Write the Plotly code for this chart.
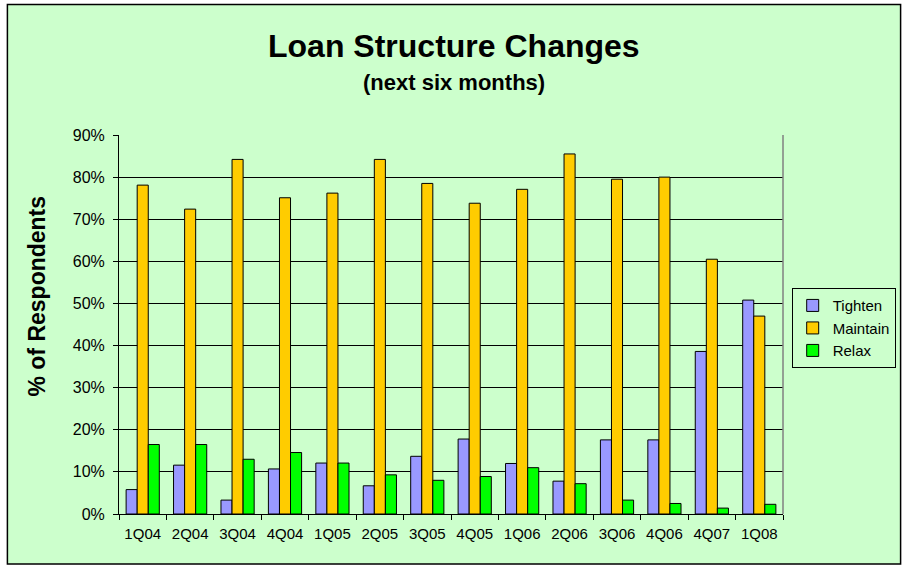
import plotly.graph_objects as go

categories = ["1Q04", "2Q04", "3Q04", "4Q04", "1Q05", "2Q05", "3Q05", "4Q05",
              "1Q06", "2Q06", "3Q06", "4Q06", "4Q07", "1Q08"]
tighten = [5.8, 11.6, 3.3, 10.7, 12.1, 6.7, 13.7, 17.8, 12.0, 7.8, 17.6, 17.6, 38.6, 50.8]
maintain = [78.1, 72.4, 84.2, 75.1, 76.2, 84.2, 78.5, 73.8, 77.1, 85.5, 79.5, 80.0, 60.5, 47.0]
relax = [16.5, 16.5, 13.0, 14.6, 12.1, 9.3, 8.0, 8.9, 11.0, 7.2, 3.3, 2.5, 1.4, 2.3]
y_ticks = [0, 10, 20, 30, 40, 50, 60, 70, 80, 90]
y_tick_labels = [f"{v}%" for v in y_ticks]

FONT = "Liberation Sans, Arial, sans-serif"
GREEN_BG = "#CCFFCC"

# plot-area geometry in page pixels (used to place paper-relative decorations)
PL, PR, PT, PB = 118.7, 783.3, 134.7, 514.0
PW, PH = PR - PL, PB - PT


def px(xp):
    return (xp - PL) / PW


def py(yp):
    return (PB - yp) / PH


fig = go.Figure()
for name, vals, color in [("Tighten", tighten, "#9999FF"),
                          ("Maintain", maintain, "#FFCC00"),
                          ("Relax", relax, "#00FF00")]:
    fig.add_trace(go.Bar(
        x=categories, y=vals, name=name,
        marker=dict(color=color, line=dict(color="#000000", width=1)),
    ))

fig.update_layout(
    width=904, height=566,
    barmode="group", bargap=0.30, bargroupgap=0.0,
    paper_bgcolor="white", plot_bgcolor="white",
    margin=dict(l=119, r=121, t=135, b=52, pad=0, autoexpand=False),
    font=dict(family=FONT, color="#000000", size=13),
    showlegend=True,
    legend=dict(
        x=px(792), y=py(288), xanchor="left", yanchor="top",
        bgcolor=GREEN_BG, bordercolor="#000000", borderwidth=1,
        font=dict(family=FONT, size=15, color="#000000"),
        tracegroupgap=0, itemwidth=30,
    ),
    shapes=[
        dict(type="rect", xref="paper", yref="paper",
             x0=px(7), x1=px(901), y0=py(564), y1=py(4),
             fillcolor=GREEN_BG, line=dict(color="#000000", width=1.5),
             layer="below"),
        dict(type="line", xref="paper", yref="paper",
             x0=1, x1=1, y0=0, y1=1,
             line=dict(color="#808080", width=1.5)),
    ],
    annotations=[
        dict(text="<b>Loan Structure Changes</b>", xref="paper", yref="paper",
             x=px(454), y=py(46), xanchor="center", yanchor="middle",
             showarrow=False, font=dict(family=FONT, size=32, color="#000000")),
        dict(text="<b>(next six months)</b>", xref="paper", yref="paper",
             x=px(454), y=py(82), xanchor="center", yanchor="middle",
             showarrow=False, font=dict(family=FONT, size=22, color="#000000")),
        dict(text="<b>% of Respondents</b>", xref="paper", yref="paper",
             x=px(37), y=py(296), xanchor="center", yanchor="middle",
             textangle=-90, showarrow=False,
             font=dict(family=FONT, size=23, color="#000000")),
    ],
)

fig.update_xaxes(
    type="category", tickson="boundaries", ticks="outside", ticklen=5,
    tickcolor="#000000", showline=True, linecolor="#000000", linewidth=1,
    showgrid=False, ticklabelstandoff=6,
    tickfont=dict(family=FONT, size=15, color="#000000"),
)
fig.update_yaxes(
    range=[0, 90], tickvals=y_ticks, ticktext=y_tick_labels,
    ticks="outside", ticklen=5, tickcolor="#000000",
    showline=True, linecolor="#000000", linewidth=1,
    showgrid=True, gridcolor="#000000", gridwidth=1, zeroline=False,
    ticklabelstandoff=5,
    tickfont=dict(family=FONT, size=16, color="#000000"),
)

fig.write_html("out.html", config={"displayModeBar": False},
               post_script="document.body.style.margin='0px';")
